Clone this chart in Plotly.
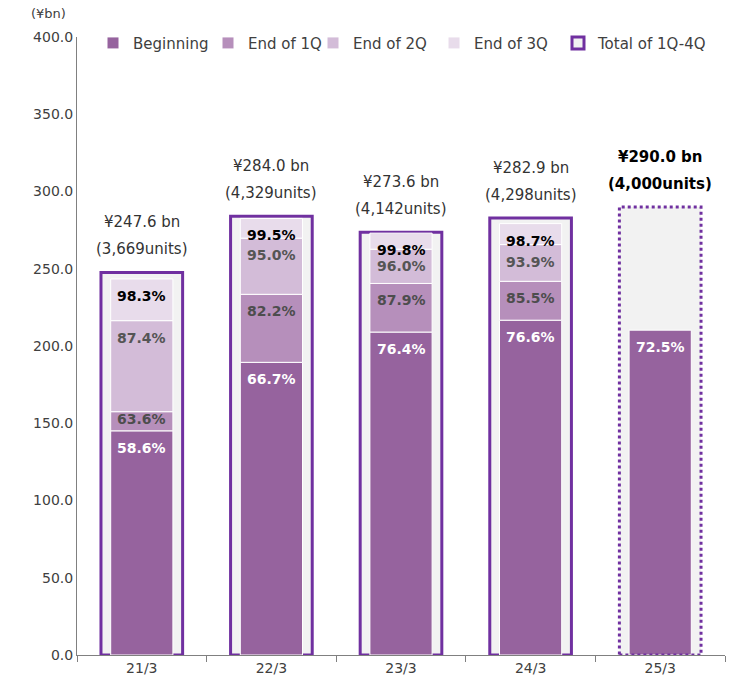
import plotly.graph_objects as go

years = ["21/3", "22/3", "23/3", "24/3", "25/3"]
totals = [247.6, 284.0, 273.6, 282.9, 290.0]
units = ["3,669", "4,329", "4,142", "4,298", "4,000"]
pct_begin = [58.6, 66.7, 76.4, 76.6, 72.5]
pct_1q = [63.6, 82.2, 87.9, 85.5, None]
pct_2q = [87.4, 95.0, 96.0, 93.9, None]
pct_3q = [98.3, 99.5, 99.8, 98.7, None]

series_names = ["Beginning", "End of 1Q", "End of 2Q", "End of 3Q"]
series_pcts = [pct_begin, pct_1q, pct_2q, pct_3q]
series_colors = ["#96639E", "#B68FBB", "#D3BCD8", "#E8DCEB"]
label_colors = ["#FFFFFF", "#4D4D4D", "#555555", "#000000"]

PURPLE = "#7030A0"
FONT = "DejaVu Sans, Verdana, sans-serif"
PX_PER_UNIT = 618 / 400.0
L_MARGIN, PLOT_W = 77, 648
# legend marker left edges (px) for each entry
legend_px = [115, 230, 335, 456, 580]
legend_ids = ["legend", "legend2", "legend3", "legend4", "legend5"]

fig = go.Figure()

# Outline (total) bars
fig.add_trace(go.Bar(
    x=years[:4], y=totals[:4], width=0.63, name="Total of 1Q-4Q",
    marker=dict(color="#F2F2F2", line=dict(color=PURPLE, width=3)),
    legend=legend_ids[4], hoverinfo="skip"))
fig.add_trace(go.Bar(
    x=years[4:], y=totals[4:], width=0.63, showlegend=False,
    marker=dict(color="#F2F2F2", line=dict(width=0)), hoverinfo="skip"))

annotations = []
for si, (name, pcts, col) in enumerate(zip(series_names, series_pcts, series_colors)):
    xs, bases, hs = [], [], []
    for i, yr in enumerate(years):
        p = pcts[i]
        if p is None:
            continue
        top = totals[i] * p / 100.0
        prev = 0.0 if si == 0 else totals[i] * series_pcts[si - 1][i] / 100.0
        xs.append(yr)
        bases.append(prev)
        hs.append(top - prev)
        seg_px = (top - prev) * PX_PER_UNIT
        is_top = (si == 3)
        shift = -17 if (is_top or seg_px >= 30) else -seg_px / 2 + 2
        annotations.append(dict(
            x=yr, y=top, xref="x", yref="y", yshift=shift, yanchor="middle",
            text=f"<b>{p:.1f}%</b>", showarrow=False,
            font=dict(family=FONT, size=14, color=label_colors[si])))
    fig.add_trace(go.Bar(
        x=xs, y=hs, base=bases, width=0.48, name=name,
        marker=dict(color=col, line=dict(color="#FFFFFF", width=1)),
        legend=legend_ids[si], hoverinfo="skip"))

# Total labels
for i, yr in enumerate(years):
    bold = (i == len(years) - 1)
    t1 = f"¥{totals[i]:.1f} bn"
    t2 = f"({units[i]}units)"
    if bold:
        t1, t2 = f"<b>{t1}</b>", f"<b>{t2}</b>"
    c = "#000000" if bold else "#333333"
    annotations.append(dict(x=yr, y=totals[i], xref="x", yref="y", yshift=50,
                            yanchor="middle", text=t1, showarrow=False,
                            font=dict(family=FONT, size=15, color=c)))
    annotations.append(dict(x=yr, y=totals[i], xref="x", yref="y", yshift=23,
                            yanchor="middle", text=t2, showarrow=False,
                            font=dict(family=FONT, size=15, color=c)))

annotations.append(dict(x=(48 - L_MARGIN) / PLOT_W, y=1 + (37 - 13) / 618.0,
                        xref="paper", yref="paper", text="(¥bn)",
                        xanchor="center", yanchor="middle", showarrow=False,
                        font=dict(family=FONT, size=13, color="#404040")))

# Dotted outline for forecast bar
i5 = len(years) - 1
fig.add_shape(type="rect", xref="x", yref="y", x0=i5 - 0.315, x1=i5 + 0.315,
              y0=0, y1=totals[i5], line=dict(color=PURPLE, width=3, dash="dot"),
              layer="above")

legend_layout = {}
for lid, px in zip(legend_ids, legend_px):
    legend_layout[lid] = dict(
        orientation="h", x=(px - 22 - L_MARGIN) / PLOT_W, y=0.99,
        xanchor="left", yanchor="middle",
        font=dict(family=FONT, size=15, color="#404040"),
        bgcolor="rgba(0,0,0,0)")

fig.update_layout(
    width=731, height=689,
    margin=dict(l=L_MARGIN, r=6, t=37, b=34),
    paper_bgcolor="white", plot_bgcolor="white",
    barmode="overlay",
    showlegend=True,
    annotations=annotations,
    font=dict(family=FONT, color="#404040"),
    **legend_layout,
)
fig.update_yaxes(range=[0, 400], dtick=50, tickformat=".1f", showgrid=False,
                 showline=True, linecolor="#808080", linewidth=1, ticks="",
                 tickfont=dict(family=FONT, size=14, color="#404040"), zeroline=False)
fig.update_xaxes(type="category", showgrid=False, showline=True, linecolor="#808080",
                 linewidth=1, ticks="outside", tickson="boundaries", ticklen=6,
                 tickcolor="#808080", range=[-0.5, 4.5],
                 tickfont=dict(family=FONT, size=14, color="#404040"))

fig.write_html("out.html", config={"displayModeBar": False},
               post_script="document.body.style.margin='0';")
